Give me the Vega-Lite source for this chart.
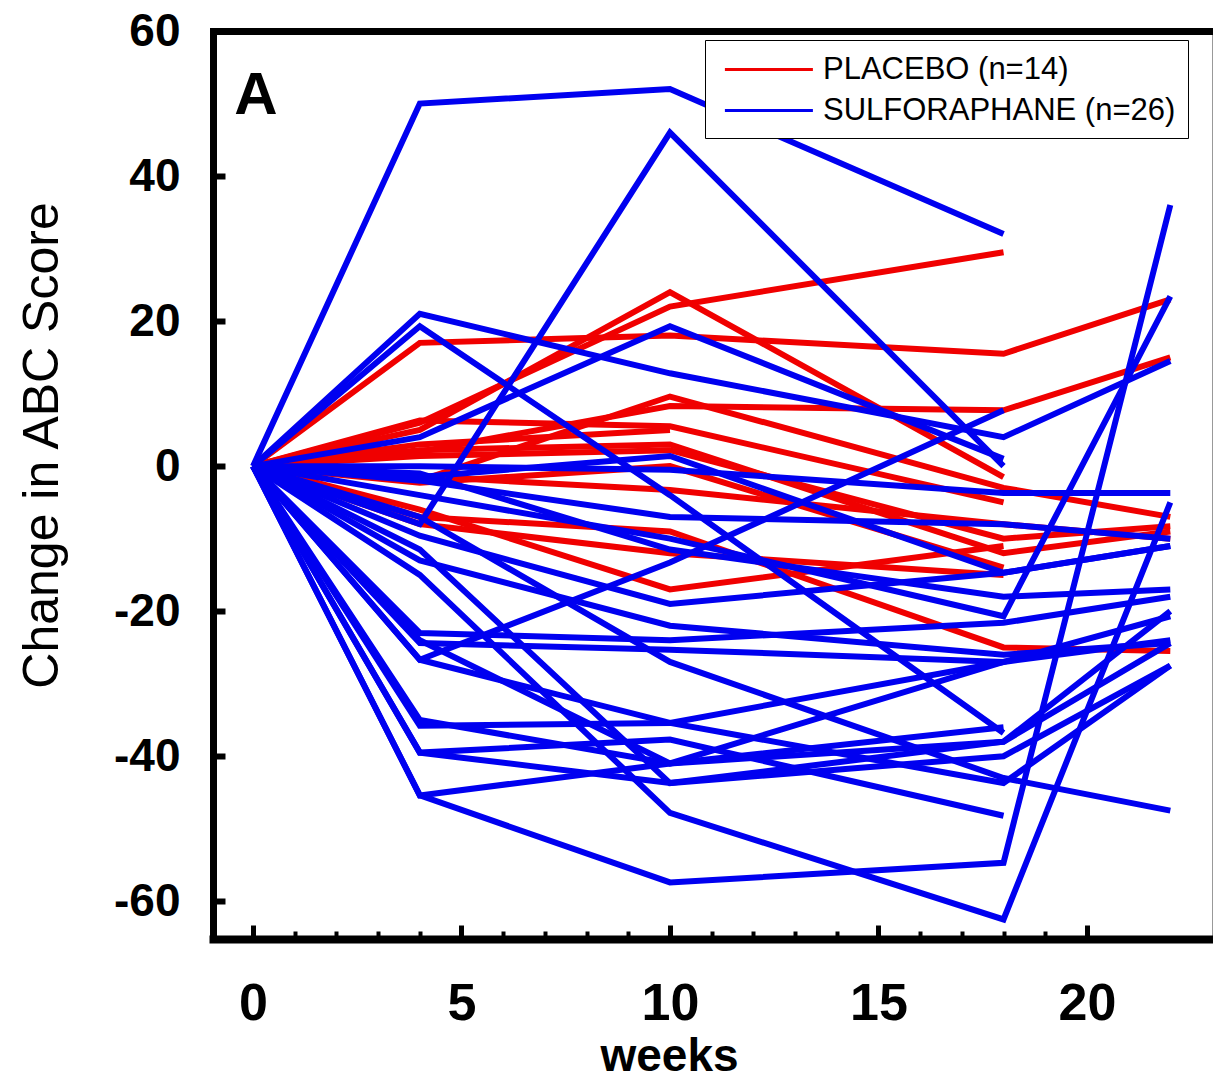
{
  "$schema": "https://vega.github.io/schema/vega-lite/v6.json",
  "width": 999,
  "height": 908,
  "autosize": {"type": "none"},
  "padding": {"left": 213, "top": 31, "right": 1, "bottom": 140},
  "background": "white",
  "config": {"view": {"stroke": "#999999", "strokeWidth": 1}, "font": "Liberation Sans"},
  "datasets": {
    "lines": [
      {"s":"PLACEBO (n=14)","id":"P1","w":0,"v":0},{"s":"PLACEBO (n=14)","id":"P1","w":4,"v":6},{"s":"PLACEBO (n=14)","id":"P1","w":10,"v":22},{"s":"PLACEBO (n=14)","id":"P1","w":18,"v":29.5},
      {"s":"PLACEBO (n=14)","id":"P2","w":0,"v":0},{"s":"PLACEBO (n=14)","id":"P2","w":4,"v":17},{"s":"PLACEBO (n=14)","id":"P2","w":10,"v":18},{"s":"PLACEBO (n=14)","id":"P2","w":18,"v":15.5},{"s":"PLACEBO (n=14)","id":"P2","w":22,"v":23},
      {"s":"PLACEBO (n=14)","id":"P3","w":0,"v":0},{"s":"PLACEBO (n=14)","id":"P3","w":4,"v":5},{"s":"PLACEBO (n=14)","id":"P3","w":10,"v":24},{"s":"PLACEBO (n=14)","id":"P3","w":18,"v":-1.5},
      {"s":"PLACEBO (n=14)","id":"P4","w":0,"v":0},{"s":"PLACEBO (n=14)","id":"P4","w":4,"v":2},{"s":"PLACEBO (n=14)","id":"P4","w":10,"v":8.3},{"s":"PLACEBO (n=14)","id":"P4","w":18,"v":7.7},{"s":"PLACEBO (n=14)","id":"P4","w":22,"v":15},
      {"s":"PLACEBO (n=14)","id":"P5","w":0,"v":0},{"s":"PLACEBO (n=14)","id":"P5","w":4,"v":-2},{"s":"PLACEBO (n=14)","id":"P5","w":10,"v":9.6},{"s":"PLACEBO (n=14)","id":"P5","w":18,"v":-3},{"s":"PLACEBO (n=14)","id":"P5","w":22,"v":-7},
      {"s":"PLACEBO (n=14)","id":"P6","w":0,"v":0},{"s":"PLACEBO (n=14)","id":"P6","w":4,"v":1.4},{"s":"PLACEBO (n=14)","id":"P6","w":10,"v":2.2},{"s":"PLACEBO (n=14)","id":"P6","w":18,"v":-10},{"s":"PLACEBO (n=14)","id":"P6","w":22,"v":-8.3},
      {"s":"PLACEBO (n=14)","id":"P7","w":0,"v":0},{"s":"PLACEBO (n=14)","id":"P7","w":4,"v":-6},{"s":"PLACEBO (n=14)","id":"P7","w":10,"v":-17},{"s":"PLACEBO (n=14)","id":"P7","w":18,"v":-11},
      {"s":"PLACEBO (n=14)","id":"P8","w":0,"v":0},{"s":"PLACEBO (n=14)","id":"P8","w":4,"v":-7},{"s":"PLACEBO (n=14)","id":"P8","w":10,"v":-9},{"s":"PLACEBO (n=14)","id":"P8","w":18,"v":-25},{"s":"PLACEBO (n=14)","id":"P8","w":22,"v":-25.5},
      {"s":"PLACEBO (n=14)","id":"P9","w":0,"v":0},{"s":"PLACEBO (n=14)","id":"P9","w":4,"v":2.2},{"s":"PLACEBO (n=14)","id":"P9","w":10,"v":3},{"s":"PLACEBO (n=14)","id":"P9","w":18,"v":-12},{"s":"PLACEBO (n=14)","id":"P9","w":22,"v":-9},
      {"s":"PLACEBO (n=14)","id":"P10","w":0,"v":0},{"s":"PLACEBO (n=14)","id":"P10","w":4,"v":-1.4},{"s":"PLACEBO (n=14)","id":"P10","w":10,"v":-3.3},{"s":"PLACEBO (n=14)","id":"P10","w":18,"v":-8},{"s":"PLACEBO (n=14)","id":"P10","w":22,"v":-10},
      {"s":"PLACEBO (n=14)","id":"P11","w":0,"v":0},{"s":"PLACEBO (n=14)","id":"P11","w":4,"v":6.3},{"s":"PLACEBO (n=14)","id":"P11","w":10,"v":5.5},{"s":"PLACEBO (n=14)","id":"P11","w":18,"v":-5},
      {"s":"PLACEBO (n=14)","id":"P12","w":0,"v":0},{"s":"PLACEBO (n=14)","id":"P12","w":4,"v":-8},{"s":"PLACEBO (n=14)","id":"P12","w":10,"v":-12},{"s":"PLACEBO (n=14)","id":"P12","w":18,"v":-15},
      {"s":"PLACEBO (n=14)","id":"P13","w":0,"v":0},{"s":"PLACEBO (n=14)","id":"P13","w":4,"v":-2.3},{"s":"PLACEBO (n=14)","id":"P13","w":10,"v":0},{"s":"PLACEBO (n=14)","id":"P13","w":18,"v":-14},
      {"s":"PLACEBO (n=14)","id":"P14","w":0,"v":0},{"s":"PLACEBO (n=14)","id":"P14","w":4,"v":3},{"s":"PLACEBO (n=14)","id":"P14","w":10,"v":5},
      {"s":"SULFORAPHANE (n=26)","id":"B1","w":0,"v":0},{"s":"SULFORAPHANE (n=26)","id":"B1","w":4,"v":50},{"s":"SULFORAPHANE (n=26)","id":"B1","w":10,"v":52},{"s":"SULFORAPHANE (n=26)","id":"B1","w":18,"v":32},
      {"s":"SULFORAPHANE (n=26)","id":"B2","w":0,"v":0},{"s":"SULFORAPHANE (n=26)","id":"B2","w":4,"v":-8},{"s":"SULFORAPHANE (n=26)","id":"B2","w":10,"v":46},{"s":"SULFORAPHANE (n=26)","id":"B2","w":18,"v":0},
      {"s":"SULFORAPHANE (n=26)","id":"B3","w":0,"v":0},{"s":"SULFORAPHANE (n=26)","id":"B3","w":4,"v":21},{"s":"SULFORAPHANE (n=26)","id":"B3","w":10,"v":12.8},{"s":"SULFORAPHANE (n=26)","id":"B3","w":18,"v":4},{"s":"SULFORAPHANE (n=26)","id":"B3","w":22,"v":14.5},
      {"s":"SULFORAPHANE (n=26)","id":"B4","w":0,"v":0},{"s":"SULFORAPHANE (n=26)","id":"B4","w":4,"v":19.3},{"s":"SULFORAPHANE (n=26)","id":"B4","w":10,"v":-4},{"s":"SULFORAPHANE (n=26)","id":"B4","w":18,"v":-36.8},
      {"s":"SULFORAPHANE (n=26)","id":"B5","w":0,"v":0},{"s":"SULFORAPHANE (n=26)","id":"B5","w":4,"v":4},{"s":"SULFORAPHANE (n=26)","id":"B5","w":10,"v":19.3},{"s":"SULFORAPHANE (n=26)","id":"B5","w":18,"v":1},
      {"s":"SULFORAPHANE (n=26)","id":"B6","w":0,"v":0},{"s":"SULFORAPHANE (n=26)","id":"B6","w":4,"v":0},{"s":"SULFORAPHANE (n=26)","id":"B6","w":10,"v":-0.5},{"s":"SULFORAPHANE (n=26)","id":"B6","w":18,"v":-3.7},{"s":"SULFORAPHANE (n=26)","id":"B6","w":22,"v":-3.7},
      {"s":"SULFORAPHANE (n=26)","id":"B7","w":0,"v":0},{"s":"SULFORAPHANE (n=26)","id":"B7","w":4,"v":-26.7},{"s":"SULFORAPHANE (n=26)","id":"B7","w":10,"v":-13.3},{"s":"SULFORAPHANE (n=26)","id":"B7","w":18,"v":7.7},
      {"s":"SULFORAPHANE (n=26)","id":"B8","w":0,"v":0},{"s":"SULFORAPHANE (n=26)","id":"B8","w":4,"v":-9.6},{"s":"SULFORAPHANE (n=26)","id":"B8","w":10,"v":-19},{"s":"SULFORAPHANE (n=26)","id":"B8","w":18,"v":-14.7},{"s":"SULFORAPHANE (n=26)","id":"B8","w":22,"v":-11},
      {"s":"SULFORAPHANE (n=26)","id":"B9","w":0,"v":0},{"s":"SULFORAPHANE (n=26)","id":"B9","w":4,"v":-23},{"s":"SULFORAPHANE (n=26)","id":"B9","w":10,"v":-24},{"s":"SULFORAPHANE (n=26)","id":"B9","w":18,"v":-21.6},{"s":"SULFORAPHANE (n=26)","id":"B9","w":22,"v":-18},
      {"s":"SULFORAPHANE (n=26)","id":"B10","w":0,"v":0},{"s":"SULFORAPHANE (n=26)","id":"B10","w":4,"v":-24.4},{"s":"SULFORAPHANE (n=26)","id":"B10","w":10,"v":-25.3},{"s":"SULFORAPHANE (n=26)","id":"B10","w":18,"v":-27},{"s":"SULFORAPHANE (n=26)","id":"B10","w":22,"v":-20.7},
      {"s":"SULFORAPHANE (n=26)","id":"B11","w":0,"v":0},{"s":"SULFORAPHANE (n=26)","id":"B11","w":4,"v":-26.7},{"s":"SULFORAPHANE (n=26)","id":"B11","w":10,"v":-35.4},{"s":"SULFORAPHANE (n=26)","id":"B11","w":18,"v":-43.7},{"s":"SULFORAPHANE (n=26)","id":"B11","w":22,"v":-27.5},
      {"s":"SULFORAPHANE (n=26)","id":"B12","w":0,"v":0},{"s":"SULFORAPHANE (n=26)","id":"B12","w":4,"v":-35},{"s":"SULFORAPHANE (n=26)","id":"B12","w":10,"v":-41},{"s":"SULFORAPHANE (n=26)","id":"B12","w":18,"v":-38},{"s":"SULFORAPHANE (n=26)","id":"B12","w":22,"v":-24.4},
      {"s":"SULFORAPHANE (n=26)","id":"B13","w":0,"v":0},{"s":"SULFORAPHANE (n=26)","id":"B13","w":4,"v":-15},{"s":"SULFORAPHANE (n=26)","id":"B13","w":10,"v":-47.8},{"s":"SULFORAPHANE (n=26)","id":"B13","w":18,"v":-62.5},{"s":"SULFORAPHANE (n=26)","id":"B13","w":22,"v":-5},
      {"s":"SULFORAPHANE (n=26)","id":"B14","w":0,"v":0},{"s":"SULFORAPHANE (n=26)","id":"B14","w":4,"v":-45.4},{"s":"SULFORAPHANE (n=26)","id":"B14","w":10,"v":-57.4},{"s":"SULFORAPHANE (n=26)","id":"B14","w":18,"v":-54.7},{"s":"SULFORAPHANE (n=26)","id":"B14","w":22,"v":36},
      {"s":"SULFORAPHANE (n=26)","id":"B15","w":0,"v":0},{"s":"SULFORAPHANE (n=26)","id":"B15","w":4,"v":-39.5},{"s":"SULFORAPHANE (n=26)","id":"B15","w":10,"v":-37.7},{"s":"SULFORAPHANE (n=26)","id":"B15","w":18,"v":-48.2},
      {"s":"SULFORAPHANE (n=26)","id":"B16","w":0,"v":0},{"s":"SULFORAPHANE (n=26)","id":"B16","w":4,"v":-11.5},{"s":"SULFORAPHANE (n=26)","id":"B16","w":10,"v":-43.7},{"s":"SULFORAPHANE (n=26)","id":"B16","w":18,"v":-40},{"s":"SULFORAPHANE (n=26)","id":"B16","w":22,"v":-27.5},
      {"s":"SULFORAPHANE (n=26)","id":"B17","w":0,"v":0},{"s":"SULFORAPHANE (n=26)","id":"B17","w":4,"v":-7},{"s":"SULFORAPHANE (n=26)","id":"B17","w":10,"v":-27},{"s":"SULFORAPHANE (n=26)","id":"B17","w":18,"v":-43},{"s":"SULFORAPHANE (n=26)","id":"B17","w":22,"v":-47.5},
      {"s":"SULFORAPHANE (n=26)","id":"B18","w":0,"v":0},{"s":"SULFORAPHANE (n=26)","id":"B18","w":4,"v":-4},{"s":"SULFORAPHANE (n=26)","id":"B18","w":10,"v":-10},{"s":"SULFORAPHANE (n=26)","id":"B18","w":18,"v":-20.7},{"s":"SULFORAPHANE (n=26)","id":"B18","w":22,"v":23.4},
      {"s":"SULFORAPHANE (n=26)","id":"B19","w":0,"v":0},{"s":"SULFORAPHANE (n=26)","id":"B19","w":4,"v":-2},{"s":"SULFORAPHANE (n=26)","id":"B19","w":10,"v":-7},{"s":"SULFORAPHANE (n=26)","id":"B19","w":18,"v":-8},{"s":"SULFORAPHANE (n=26)","id":"B19","w":22,"v":-10},
      {"s":"SULFORAPHANE (n=26)","id":"B20","w":0,"v":0},{"s":"SULFORAPHANE (n=26)","id":"B20","w":4,"v":-1},{"s":"SULFORAPHANE (n=26)","id":"B20","w":10,"v":-11.5},{"s":"SULFORAPHANE (n=26)","id":"B20","w":18,"v":-18},{"s":"SULFORAPHANE (n=26)","id":"B20","w":22,"v":-17},
      {"s":"SULFORAPHANE (n=26)","id":"B21","w":0,"v":0},{"s":"SULFORAPHANE (n=26)","id":"B21","w":4,"v":-35.8},{"s":"SULFORAPHANE (n=26)","id":"B21","w":10,"v":-35.4},{"s":"SULFORAPHANE (n=26)","id":"B21","w":18,"v":-27},
      {"s":"SULFORAPHANE (n=26)","id":"B22","w":0,"v":0},{"s":"SULFORAPHANE (n=26)","id":"B22","w":4,"v":-24},{"s":"SULFORAPHANE (n=26)","id":"B22","w":10,"v":-41},{"s":"SULFORAPHANE (n=26)","id":"B22","w":18,"v":-36},
      {"s":"SULFORAPHANE (n=26)","id":"B23","w":0,"v":0},{"s":"SULFORAPHANE (n=26)","id":"B23","w":4,"v":-39.5},{"s":"SULFORAPHANE (n=26)","id":"B23","w":10,"v":-43.7},{"s":"SULFORAPHANE (n=26)","id":"B23","w":18,"v":-38},{"s":"SULFORAPHANE (n=26)","id":"B23","w":22,"v":-20},
      {"s":"SULFORAPHANE (n=26)","id":"B24","w":0,"v":0},{"s":"SULFORAPHANE (n=26)","id":"B24","w":4,"v":-1.5},{"s":"SULFORAPHANE (n=26)","id":"B24","w":10,"v":1.4},{"s":"SULFORAPHANE (n=26)","id":"B24","w":18,"v":-14.7},{"s":"SULFORAPHANE (n=26)","id":"B24","w":22,"v":-11},
      {"s":"SULFORAPHANE (n=26)","id":"B25","w":0,"v":0},{"s":"SULFORAPHANE (n=26)","id":"B25","w":4,"v":-45.4},{"s":"SULFORAPHANE (n=26)","id":"B25","w":10,"v":-41},{"s":"SULFORAPHANE (n=26)","id":"B25","w":18,"v":-27},{"s":"SULFORAPHANE (n=26)","id":"B25","w":22,"v":-24},
      {"s":"SULFORAPHANE (n=26)","id":"B26","w":0,"v":0},{"s":"SULFORAPHANE (n=26)","id":"B26","w":4,"v":-13},{"s":"SULFORAPHANE (n=26)","id":"B26","w":10,"v":-22},{"s":"SULFORAPHANE (n=26)","id":"B26","w":18,"v":-26},{"s":"SULFORAPHANE (n=26)","id":"B26","w":22,"v":-24.4}
    ],
    "panel": [{"t": "A", "w": -0.45, "v": 51.1}]
  },
  "resolve": {"axis": {"x": "independent"}},
  "layer": [
    {
      "data": {"name": "lines"},
      "mark": {"type": "line", "strokeWidth": 6},
      "encoding": {
        "x": {
          "field": "w", "type": "quantitative",
          "scale": {"domain": [-0.96, 23], "nice": false, "zero": false},
          "axis": {
            "orient": "bottom", "values": [0, 5, 10, 15, 20], "tickSize": -14, "tickWidth": 5, "tickColor": "black",
            "domainColor": "black", "domainWidth": 8, "domainCap": "square", "zindex": 1,
            "labelFont": "Liberation Sans", "labelFontWeight": "bold", "labelFontSize": 52, "labelColor": "black",
            "labelPadding": 53, "labelFlush": false, "labelOverlap": false, "grid": false,
            "title": "weeks", "titleFont": "Liberation Sans", "titleFontSize": 46, "titleFontWeight": "bold",
            "titleColor": "black", "titleX": 456, "titleY": 131, "titleAlign": "center", "titleBaseline": "alphabetic"
          }
        },
        "y": {
          "field": "v", "type": "quantitative",
          "scale": {"domain": [-65.2, 60], "nice": false, "zero": false},
          "axis": {
            "values": [-60, -40, -20, 0, 20, 40, 60], "tickSize": -12, "tickWidth": 6, "tickColor": "black",
            "domainColor": "black", "domainWidth": 7, "domainCap": "square", "zindex": 1,
            "labelFont": "Liberation Sans", "labelFontWeight": "bold", "labelFontSize": 46, "labelColor": "black",
            "labelPadding": 45, "labelFlush": false, "labelOverlap": false, "grid": false,
            "labelExpr": "datum.value < 0 ? '-' + abs(datum.value) : '' + datum.value",
            "title": "Change in ABC Score", "titleFont": "Liberation Sans", "titleFontSize": 50, "titleFontWeight": "normal",
            "titleColor": "black", "titleAngle": -90, "titleX": -171, "titleY": 414, "titleAlign": "center", "titleBaseline": "middle"
          }
        },
        "color": {
          "field": "s", "type": "nominal",
          "scale": {"domain": ["PLACEBO (n=14)", "SULFORAPHANE (n=26)"], "range": ["#f00000", "#0000f0"]},
          "legend": {
            "orient": "none", "legendX": 492, "legendY": 9, "title": null,
            "strokeColor": "black", "fillColor": "white", "padding": 12,
            "symbolType": "M-0.6,0H4.9", "symbolSize": 1024, "symbolStrokeWidth": 3,
            "labelFont": "Liberation Sans", "labelFontSize": 31, "labelColor": "black", "labelOffset": 71,
            "labelLimit": 0, "rowPadding": 8
          }
        },
        "detail": {"field": "id"}
      }
    },
    {
      "data": {"name": "panel"},
      "mark": {"type": "text", "align": "left", "baseline": "middle", "fontSize": 60, "fontWeight": "bold", "font": "Liberation Sans", "color": "black"},
      "encoding": {
        "x": {"field": "w", "type": "quantitative", "axis": {"orient": "top", "domain": true, "domainColor": "black", "domainWidth": 7, "domainCap": "square", "ticks": false, "labels": false, "title": null, "grid": false, "zindex": 1}},
        "y": {"field": "v", "type": "quantitative"},
        "text": {"field": "t"}
      }
    },
    {
      "data": {"name": "panel"},
      "mark": {"type": "point", "opacity": 0},
      "encoding": {
        "x": {"field": "w", "type": "quantitative", "axis": {"orient": "bottom", "values": [0,1,2,3,4,5,6,7,8,9,10,11,12,13,14,15,16,17,18,19,20], "tickSize": -8, "tickWidth": 4, "tickColor": "black", "domain": false, "labels": false, "title": null, "grid": false}},
        "y": {"field": "v", "type": "quantitative"}
      }
    }
  ]
}
